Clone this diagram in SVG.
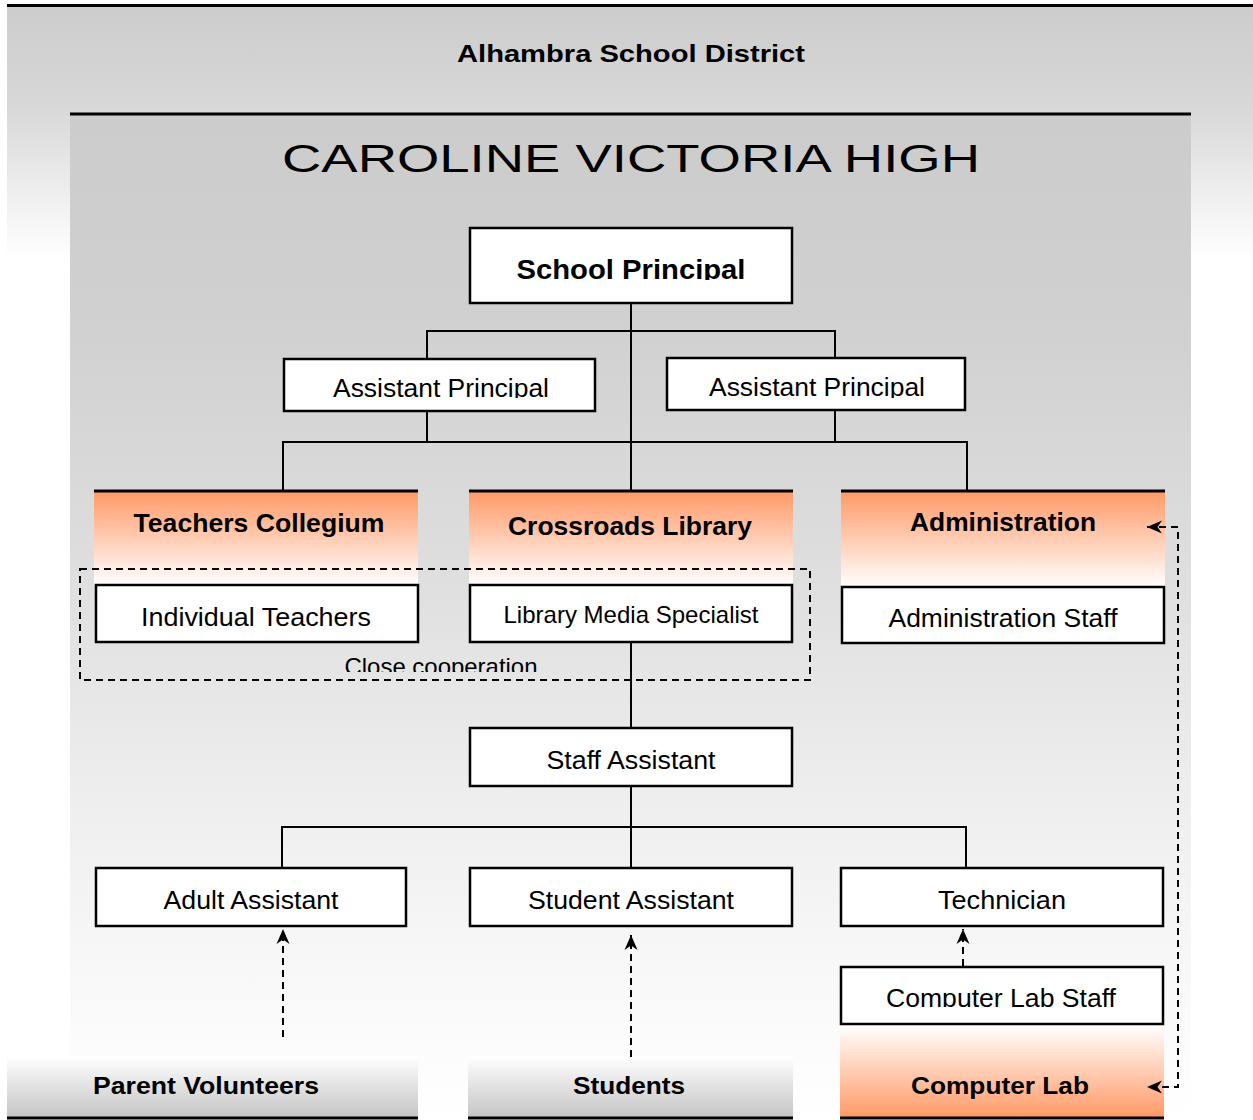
<svg xmlns="http://www.w3.org/2000/svg" width="1253" height="1120" viewBox="0 0 1253 1120">
<style>
  text { font-family: "Liberation Sans", Arial, sans-serif; fill: #000; }
  .b { font-weight: bold; }
  .box { fill: #fff; stroke: #000; stroke-width: 2.5; }
  .line { fill: none; stroke: #000; stroke-width: 2; }
  .dash { fill: none; stroke: #000; stroke-width: 2; stroke-dasharray: 7 5; }
  .rule { stroke: #000; stroke-width: 3; }
</style>
<defs>
  <linearGradient id="gOuter" x1="0" y1="0" x2="0" y2="1">
    <stop offset="0" stop-color="#cccccc"/>
    <stop offset="0.4" stop-color="#d8d8d8"/>
    <stop offset="1" stop-color="#ffffff"/>
  </linearGradient>
  <linearGradient id="gInner" x1="0" y1="0" x2="0" y2="1">
    <stop offset="0" stop-color="#cccccc"/>
    <stop offset="0.2" stop-color="#d0d0d0"/>
    <stop offset="0.42" stop-color="#dcdcdc"/>
    <stop offset="0.65" stop-color="#ececec"/>
    <stop offset="0.85" stop-color="#f8f8f8"/>
    <stop offset="1" stop-color="#ffffff"/>
  </linearGradient>
  <linearGradient id="gOrangeDown" x1="0" y1="0" x2="0" y2="1">
    <stop offset="0" stop-color="#ff9966"/>
    <stop offset="1" stop-color="#ffffff"/>
  </linearGradient>
  <linearGradient id="gOrangeUp" x1="0" y1="1" x2="0" y2="0">
    <stop offset="0" stop-color="#ff9966"/>
    <stop offset="1" stop-color="#ffffff"/>
  </linearGradient>
  <linearGradient id="gGreyUp" x1="0" y1="1" x2="0" y2="0">
    <stop offset="0" stop-color="#c4c4c4"/>
    <stop offset="1" stop-color="#ffffff"/>
  </linearGradient>
  <marker id="arrow" viewBox="0 0 16 14" refX="16" refY="7" markerWidth="16" markerHeight="14" markerUnits="userSpaceOnUse" orient="auto-start-reverse">
    <path d="M16,7 L1,0.5 L5.5,7 L1,13.5 Z" fill="#000"/>
  </marker>
  <clipPath id="clipSP"><rect x="470" y="228" width="322" height="52"/></clipPath>
  <clipPath id="clipAP"><rect x="280" y="355" width="700" height="43"/></clipPath>
  <clipPath id="clipCC"><rect x="300" y="640" width="300" height="32"/></clipPath>
  <clipPath id="clipCLS"><rect x="841" y="966" width="322" height="41"/></clipPath>
</defs>

<!-- Backgrounds -->
<g id="district">
  <rect x="7" y="5" width="1246" height="255" fill="url(#gOuter)"/>
  <line class="rule" x1="7" y1="5.5" x2="1253" y2="5.5"/>
  <text class="b" x="631" y="62" font-size="24" text-anchor="middle" textLength="348" lengthAdjust="spacingAndGlyphs">Alhambra School District</text>
</g>
<g id="school">
  <rect x="70" y="113" width="1121" height="1007" fill="url(#gInner)"/>
  <line class="rule" x1="70" y1="114" x2="1191" y2="114"/>
  <text x="631" y="172" font-size="38" text-anchor="middle" textLength="698" lengthAdjust="spacingAndGlyphs">CAROLINE VICTORIA HIGH</text>
</g>

<!-- Group headers / footers -->
<g id="teachers-collegium">
  <rect x="94" y="491" width="324" height="94" fill="url(#gOrangeDown)"/>
  <line class="rule" x1="94" y1="491" x2="418" y2="491"/>
  <text class="b" x="259" y="532" font-size="26" text-anchor="middle" textLength="251" lengthAdjust="spacingAndGlyphs">Teachers Collegium</text>
</g>
<g id="crossroads-library">
  <rect x="469" y="491" width="324" height="94" fill="url(#gOrangeDown)"/>
  <line class="rule" x1="469" y1="491" x2="793" y2="491"/>
  <text class="b" x="630" y="535" font-size="26" text-anchor="middle" textLength="244" lengthAdjust="spacingAndGlyphs">Crossroads Library</text>
</g>
<g id="administration">
  <rect x="841" y="491" width="324" height="96" fill="url(#gOrangeDown)"/>
  <line class="rule" x1="841" y1="491" x2="1165" y2="491"/>
  <text class="b" x="1003" y="531" font-size="26" text-anchor="middle" textLength="186" lengthAdjust="spacingAndGlyphs">Administration</text>
</g>
<g id="parent-volunteers">
  <rect x="7" y="1056" width="411" height="62" fill="url(#gGreyUp)"/>
  <line class="rule" x1="7" y1="1118" x2="418" y2="1118"/>
  <text class="b" x="206" y="1094" font-size="24" text-anchor="middle" textLength="226" lengthAdjust="spacingAndGlyphs">Parent Volunteers</text>
</g>
<g id="students">
  <rect x="468" y="1056" width="325" height="62" fill="url(#gGreyUp)"/>
  <line class="rule" x1="468" y1="1118" x2="793" y2="1118"/>
  <text class="b" x="629" y="1094" font-size="24" text-anchor="middle" textLength="112" lengthAdjust="spacingAndGlyphs">Students</text>
</g>
<g id="computer-lab">
  <rect x="840" y="1025" width="324" height="93" fill="url(#gOrangeUp)"/>
  <line class="rule" x1="840" y1="1118" x2="1164" y2="1118"/>
  <text class="b" x="1000" y="1094" font-size="24" text-anchor="middle" textLength="178" lengthAdjust="spacingAndGlyphs">Computer Lab</text>
</g>

<!-- Close cooperation frame -->
<g id="close-cooperation">
  <rect class="dash" x="80" y="569" width="730" height="111"/>
  <text x="441" y="675" font-size="24" text-anchor="middle" textLength="193" lengthAdjust="spacingAndGlyphs" clip-path="url(#clipCC)">Close cooperation</text>
</g>

<!-- Connectors -->
<g id="connectors">
  <path class="line" d="M631,303 V490"/>
  <path class="line" d="M427,359 V331 H835 V358"/>
  <path class="line" d="M427,411 V442"/>
  <path class="line" d="M835,410 V442"/>
  <path class="line" d="M283,490 V442 H967 V490"/>
  <path class="line" d="M631,642 V728"/>
  <path class="line" d="M631,786 V868"/>
  <path class="line" d="M282,868 V827 H966 V868"/>
  <path class="dash" d="M283,1037 V929" marker-end="url(#arrow)"/>
  <path class="dash" d="M631,1057 V935" marker-end="url(#arrow)"/>
  <path class="dash" d="M963,966 V929" marker-end="url(#arrow)"/>
  <path class="dash" d="M1147,527 H1178 V1087 H1147" marker-start="url(#arrow)" marker-end="url(#arrow)"/>
</g>

<!-- Nodes -->
<g id="school-principal">
  <rect class="box" x="470" y="228" width="322" height="75"/>
  <text class="b" x="631" y="279" font-size="28" text-anchor="middle" textLength="229" lengthAdjust="spacingAndGlyphs" clip-path="url(#clipSP)">School Principal</text>
</g>
<g id="assistant-principal-1">
  <rect class="box" x="284" y="359" width="311" height="52"/>
  <text x="441" y="397" font-size="25" text-anchor="middle" textLength="216" lengthAdjust="spacingAndGlyphs" clip-path="url(#clipAP)">Assistant Principal</text>
</g>
<g id="assistant-principal-2">
  <rect class="box" x="667" y="358" width="298" height="52"/>
  <text x="817" y="396" font-size="25" text-anchor="middle" textLength="216" lengthAdjust="spacingAndGlyphs" clip-path="url(#clipAP)">Assistant Principal</text>
</g>
<g id="individual-teachers">
  <rect class="box" x="96" y="585" width="322" height="57"/>
  <text x="256" y="626" font-size="26" text-anchor="middle" textLength="230" lengthAdjust="spacingAndGlyphs">Individual Teachers</text>
</g>
<g id="library-media-specialist">
  <rect class="box" x="470" y="585" width="322" height="57"/>
  <text x="631" y="623" font-size="24" text-anchor="middle" textLength="255" lengthAdjust="spacingAndGlyphs">Library Media Specialist</text>
</g>
<g id="administration-staff">
  <rect class="box" x="842" y="587" width="322" height="56"/>
  <text x="1003" y="627" font-size="26" text-anchor="middle" textLength="229" lengthAdjust="spacingAndGlyphs">Administration Staff</text>
</g>
<g id="staff-assistant">
  <rect class="box" x="470" y="728" width="322" height="58"/>
  <text x="631" y="769" font-size="25" text-anchor="middle" textLength="169" lengthAdjust="spacingAndGlyphs">Staff Assistant</text>
</g>
<g id="adult-assistant">
  <rect class="box" x="96" y="868" width="310" height="58"/>
  <text x="251" y="909" font-size="25" text-anchor="middle" textLength="175" lengthAdjust="spacingAndGlyphs">Adult Assistant</text>
</g>
<g id="student-assistant">
  <rect class="box" x="470" y="868" width="322" height="58"/>
  <text x="631" y="909" font-size="25" text-anchor="middle" textLength="206" lengthAdjust="spacingAndGlyphs">Student Assistant</text>
</g>
<g id="technician">
  <rect class="box" x="841" y="868" width="322" height="58"/>
  <text x="1002" y="909" font-size="25" text-anchor="middle" textLength="128" lengthAdjust="spacingAndGlyphs">Technician</text>
</g>
<g id="computer-lab-staff">
  <rect class="box" x="841" y="967" width="322" height="57"/>
  <text x="1001" y="1007" font-size="25" text-anchor="middle" textLength="230" lengthAdjust="spacingAndGlyphs" clip-path="url(#clipCLS)">Computer Lab Staff</text>
</g>
</svg>
